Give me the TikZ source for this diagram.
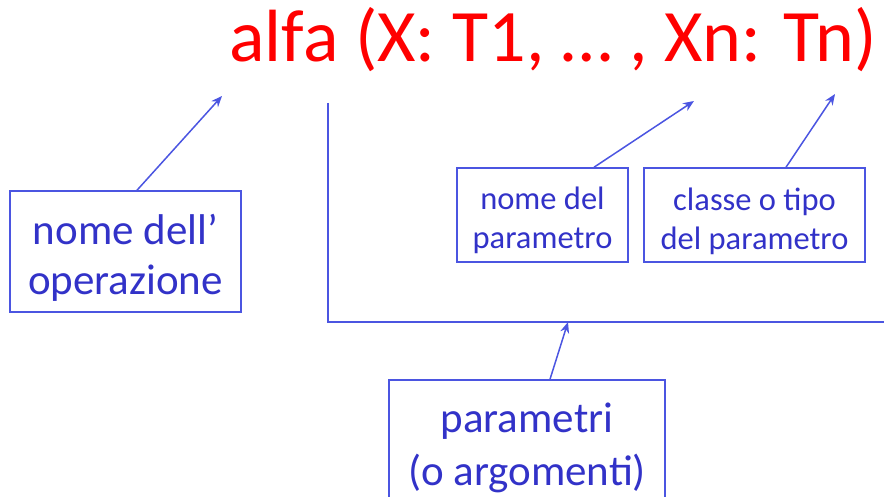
\documentclass[tikz,border=0pt]{standalone}
\usepackage{fontspec}
\setmainfont{Carlito}
\usetikzlibrary{arrows.meta}
\definecolor{txtblue}{RGB}{50,50,200}
\definecolor{lineblue}{RGB}{75,85,225}
\definecolor{titlered}{RGB}{255,0,0}
\begin{document}
\begin{tikzpicture}[x=1pt,y=-1pt,
  box/.style={draw=lineblue, line width=1.5pt, inner sep=0pt},
  lbl/.style={text=txtblue, align=center, inner sep=0pt},
  arr/.style={draw=lineblue, line width=1.5pt, -{Stealth[length=11pt,width=9pt]}},
  brk/.style={draw=lineblue, line width=1.5pt}
]
\useasboundingbox (0,0) rectangle (884,497);
% title
\node[text=titlered, anchor=base, inner sep=0pt, font=\fontsize{74}{80}\selectfont] (title) at (553,62) {alfa (X: T1, … , Xn: Tn)};
% boxes
\node[box, minimum width=231pt, minimum height=121pt] (opbox) at (125.5,251.5) {};
\node[lbl, font=\fontsize{43}{50}\selectfont] (optext) at (125.5,257.5) {nome dell’\\operazione};
\node[box, minimum width=171pt, minimum height=94pt] (nbox) at (542.5,215) {};
\node[lbl, font=\fontsize{32.5}{39}\selectfont] (ntext) at (542.5,220.5) {nome del\\parametro};
\node[box, minimum width=221pt, minimum height=94pt] (cbox) at (754.5,215) {};
\node[lbl, font=\fontsize{32.5}{39}\selectfont] (ctext) at (754.5,221.5) {classe o tipo\\del parametro};
\node[box, minimum width=276pt, minimum height=140pt] (pbox) at (527,450) {};
\node[lbl, font=\fontsize{43}{53}\selectfont] (ptext) at (527,448) {parametri\\(o argomenti)};
% bracket
\coordinate (brtop) at (328,103);
\coordinate (brcorner) at (328,322);
\coordinate (brend) at (884,322);
\draw[brk] (brtop) -- (brcorner) -- (brend);
% arrow tips
\coordinate (tipA) at (222,96);
\coordinate (tipB) at (694,101);
\coordinate (tipC) at (835,94);
\coordinate (tipD) at (568,322);
\draw[arr] ([xshift=11.5pt]opbox.north) -- (tipA);
\draw[arr] ([xshift=51.5pt]nbox.north) -- (tipB);
\draw[arr] ([xshift=31.5pt]cbox.north) -- (tipC);
\draw[arr] ([xshift=23pt]pbox.north) -- (tipD);
\end{tikzpicture}
\end{document}
